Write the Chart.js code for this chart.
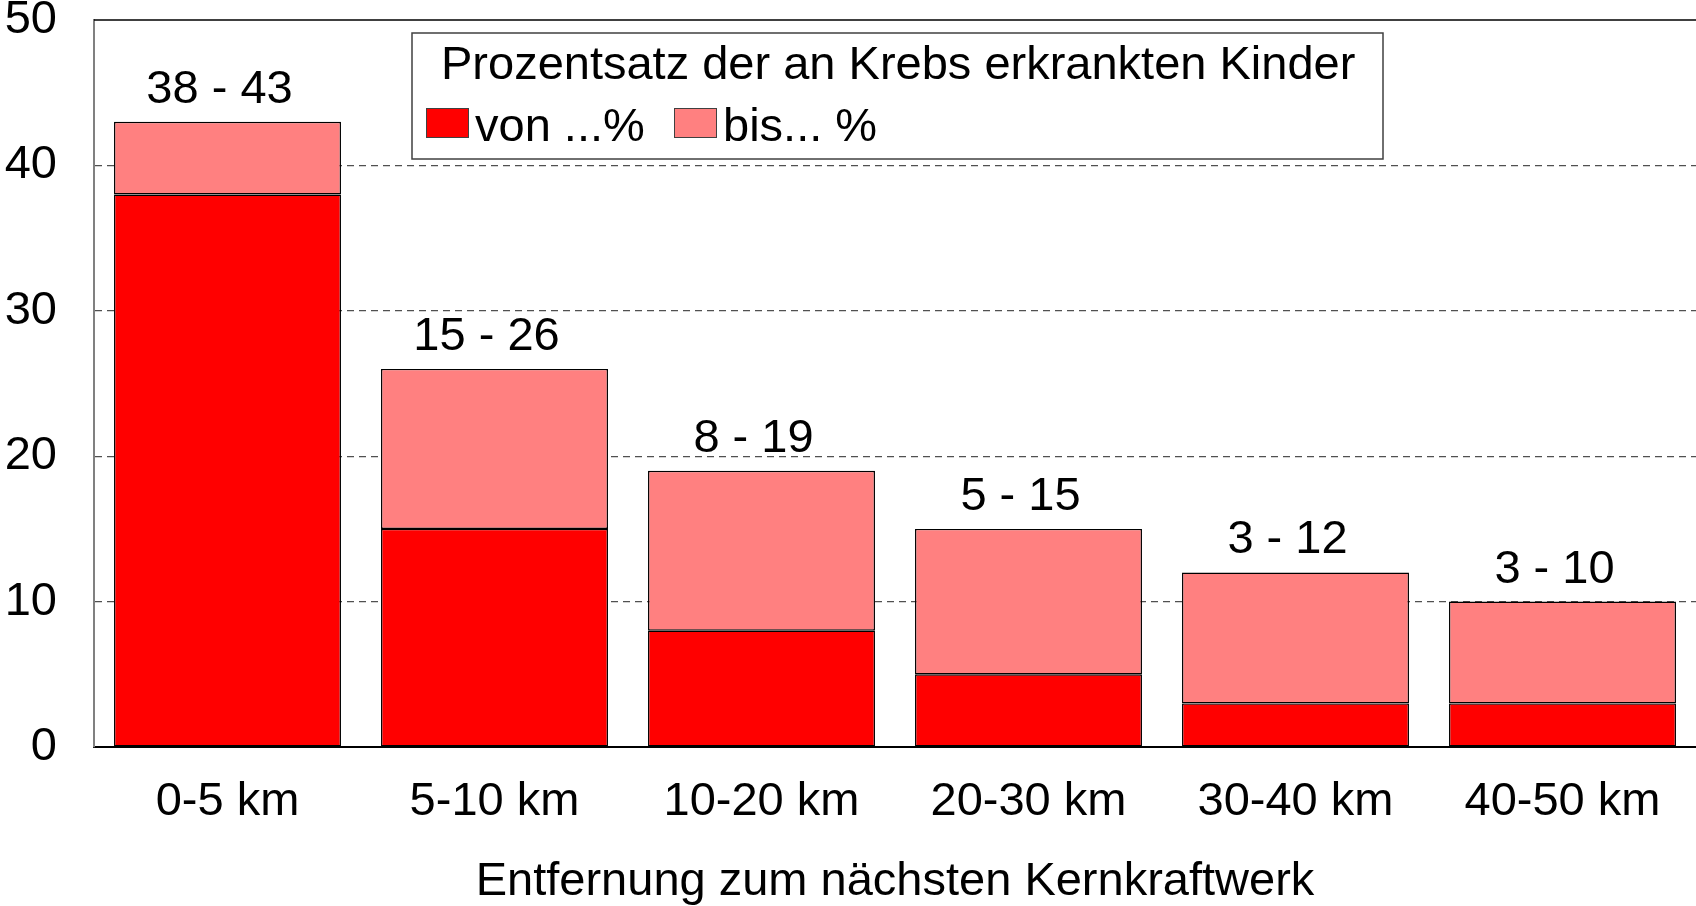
<!DOCTYPE html>
<html>
<head>
<meta charset="utf-8">
<script src="https://cdn.jsdelivr.net/npm/chart.js@4/dist/chart.umd.min.js"></script>
<style>
  html, body { margin: 0; padding: 0; background: #fff; }
  canvas { display: block; }
</style>
</head>
<body>
<canvas id="krebsChart" width="1696" height="906"></canvas>
<script>
// Daten
const kategorien = ['0-5 km', '5-10 km', '10-20 km', '20-30 km', '30-40 km', '40-50 km'];
const vonWerte = [38, 15, 8, 5, 3, 3];
const bisWerte = [43, 26, 19, 15, 12, 10];
const yTicks = [0, 10, 20, 30, 40, 50];
const legendTitel = 'Prozentsatz der an Krebs erkrankten Kinder';
const serienNamen = ['von ...%', 'bis... %'];
const xTitel = 'Entfernung zum nächsten Kernkraftwerk';

const farbeVon = '#ff0000';
const farbeBis = '#ff8080';
const schrift = "'Liberation Sans', Arial, sans-serif";

Chart.defaults.font.family = schrift;
Chart.defaults.font.size = 47;
Chart.defaults.color = '#000';

// Werte über den Balken ("38 - 43")
const wertLabels = {
    id: 'wertLabels',
    afterDatasetsDraw(chart) {
        const ctx = chart.ctx;
        const meta = chart.getDatasetMeta(1);
        ctx.save();
        ctx.font = '47px ' + schrift;
        ctx.fillStyle = '#000';
        ctx.textAlign = 'center';
        ctx.textBaseline = 'middle';
        meta.data.forEach((bar, i) => {
            ctx.fillText(vonWerte[i] + ' - ' + bisWerte[i], bar.x - 8, bar.y - 32);
        });
        ctx.restore();
    }
};

// Rahmen oben + Legende im Diagramm
const legendeBox = {
    id: 'legendeBox',
    afterDraw(chart) {
        const ctx = chart.ctx;
        const area = chart.chartArea;
        ctx.save();
        // obere Linie bei 50
        ctx.strokeStyle = '#000';
        ctx.lineWidth = 1.5;
        ctx.beginPath();
        ctx.moveTo(area.left, area.top);
        ctx.lineTo(area.right, area.top);
        ctx.stroke();

        // Legendenkasten
        ctx.fillStyle = '#fff';
        ctx.fillRect(412, 33, 971, 126);
        ctx.strokeStyle = '#404040';
        ctx.lineWidth = 1.5;
        ctx.strokeRect(412, 33, 971, 126);

        ctx.font = '47px ' + schrift;
        ctx.fillStyle = '#000';
        ctx.textAlign = 'left';
        ctx.textBaseline = 'middle';
        ctx.fillText(legendTitel, 441, 66);

        const eintraege = [
            { x: 426, farbe: farbeVon, text: serienNamen[0] },
            { x: 674, farbe: farbeBis, text: serienNamen[1] }
        ];
        eintraege.forEach(e => {
            ctx.fillStyle = e.farbe;
            ctx.fillRect(e.x, 108, 43, 30);
            ctx.strokeStyle = '#404040';
            ctx.lineWidth = 1;
            ctx.strokeRect(e.x + 0.5, 108.5, 42, 29);
            ctx.fillStyle = '#000';
            ctx.fillText(e.text, e.x + 49, 128);
        });
        ctx.restore();
    }
};

new Chart(document.getElementById('krebsChart'), {
    type: 'bar',
    data: {
        labels: kategorien,
        datasets: [
            {
                label: serienNamen[0],
                data: vonWerte,
                backgroundColor: farbeVon,
                borderColor: '#000',
                borderWidth: 1.4,
                borderSkipped: false
            },
            {
                label: serienNamen[1],
                data: vonWerte.map((v, i) => [v, bisWerte[i]]),
                backgroundColor: farbeBis,
                borderColor: '#000',
                borderWidth: 1.4,
                borderSkipped: false
            }
        ]
    },
    options: {
        responsive: false,
        animation: false,
        grouped: false,
        categoryPercentage: 1,
        barPercentage: 0.85,
        layout: { padding: { top: 20, right: 0, bottom: 0, left: 0 } },
        plugins: {
            legend: { display: false },
            tooltip: { enabled: false }
        },
        scales: {
            x: {
                grid: { display: false, drawTicks: false },
                border: { display: true, color: '#000', width: 2 },
                ticks: { padding: 27, maxRotation: 0, font: { size: 47 } },
                title: {
                    display: true,
                    text: xTitel,
                    font: { size: 47 },
                    padding: { top: 0, bottom: -4 }
                },
                afterFit(scale) {
                    scale.height = 159;
                    scale.paddingLeft = 0;
                    scale.paddingRight = 0;
                }
            },
            y: {
                min: 0,
                max: 50,
                afterBuildTicks(scale) {
                    scale.ticks = yTicks.map(v => ({ value: v }));
                },
                grid: {
                    drawTicks: false,
                    color: ctx => (ctx.tick && (ctx.tick.value === 0 || ctx.tick.value === 50)) ? 'rgba(0,0,0,0)' : '#505050',
                    lineWidth: 1.2
                },
                border: { display: true, color: '#808080', width: 2, dash: [7, 5] },
                ticks: { padding: 37, font: { size: 47 } },
                afterFit(scale) {
                    scale.width = 94;
                    scale.paddingTop = 0;
                    scale.paddingBottom = 0;
                }
            }
        }
    },
    plugins: [wertLabels, legendeBox]
});
</script>
</body>
</html>
